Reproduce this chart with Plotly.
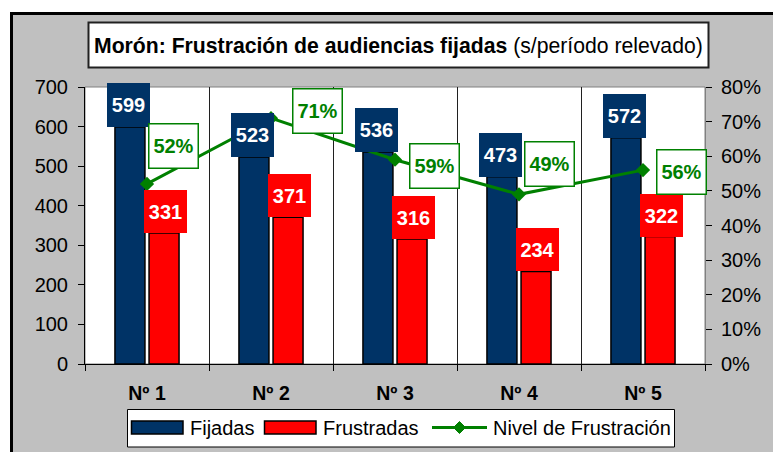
import plotly.graph_objects as go

# ---------------- data ----------------
categories = ["Nº 1", "Nº 2", "Nº 3", "Nº 4", "Nº 5"]
fijadas = [599, 523, 536, 473, 572]
frustradas = [331, 371, 316, 234, 322]
nivel = [0.52, 0.71, 0.59, 0.49, 0.56]
nivel_labels = ["52%", "71%", "59%", "49%", "56%"]

title_bold = "Morón: Frustración de audiencias fijadas"
title_rest = "(s/período relevado)"
series_names = ["Fijadas", "Frustradas", "Nivel de Frustración"]

# ---------------- layout helpers ----------------
W, H = 773, 452
L, R, T, B = 85, 68, 87, 88
PW = W - L - R
PH = H - T - B
BOTTOM = H - B


def px(x):
    return (x - L) / PW


def py(y):
    return (BOTTOM - y) / PH


NAVY = "#003366"
RED = "#FF0000"
GREEN = "#008000"
GRAY = "#C0C0C0"
FONT = "Liberation Sans, Arial, sans-serif"

# label offsets (pixels) for the percentage boxes, relative to their points
pct_dx = [26.5, 46.5, 39.5, 30.5, 38.5]
pct_dy = [38, 7, -6.5, 30, -1.5]

fig = go.Figure()
fig.add_bar(x=categories, y=fijadas, name=series_names[0],
            marker=dict(color=NAVY, line=dict(color="black", width=1.5)))
fig.add_bar(x=categories, y=frustradas, name=series_names[1],
            marker=dict(color=RED, line=dict(color="black", width=1.5)))
fig.add_scatter(x=categories, y=nivel, name=series_names[2], yaxis="y2",
                mode="lines+markers",
                line=dict(color=GREEN, width=3),
                marker=dict(symbol="diamond", size=11, color=GREEN))

shapes = [
    # outer chart area
    dict(type="rect", xref="paper", yref="paper", layer="below",
         x0=px(11.5), x1=px(820), y0=py(13.5), y1=py(500),
         fillcolor=GRAY, line=dict(color="black", width=3)),
    # plot area
    dict(type="rect", xref="paper", yref="paper", layer="below",
         x0=0, x1=1, y0=0, y1=1, fillcolor="white",
         line=dict(color="#808080", width=1)),
    # title box
    dict(type="rect", xref="paper", yref="paper", layer="below",
         x0=px(88.5), x1=px(708.5), y0=py(22.5), y1=py(67.5),
         fillcolor="white", line=dict(color="#202020", width=2)),
    # legend box
    dict(type="rect", xref="paper", yref="paper", layer="below",
         x0=px(127.5), x1=px(674.5), y0=py(409.5), y1=py(447),
         fillcolor="white", line=dict(color="black", width=1)),
    # legend swatches
    dict(type="rect", xref="paper", yref="paper", layer="below",
         x0=px(131.5), x1=px(183), y0=py(421), y1=py(434),
         fillcolor=NAVY, line=dict(color="black", width=1.5)),
    dict(type="rect", xref="paper", yref="paper", layer="below",
         x0=px(264.5), x1=px(316), y0=py(421), y1=py(434),
         fillcolor=RED, line=dict(color="black", width=1.5)),
    dict(type="line", xref="paper", yref="paper", layer="below",
         x0=px(432), x1=px(487), y0=py(427.5), y1=py(427.5),
         line=dict(color=GREEN, width=3)),
    dict(type="path", xref="paper", yref="paper", layer="below",
         path="M {},{} L {},{} L {},{} L {},{} Z".format(
             px(459.5), py(421.5), px(465.5), py(427.5),
             px(459.5), py(433.5), px(453.5), py(427.5)),
         fillcolor=GREEN, line=dict(color=GREEN, width=1)),
]

annotations = [
    dict(xref="paper", yref="paper", x=px(398.5), y=py(45.5),
         xanchor="center", yanchor="middle", showarrow=False,
         text=f"<b>{title_bold}</b> {title_rest}",
         font=dict(size=21.2, color="black", family=FONT)),
]

legend_texts = [(188, series_names[0]), (321, series_names[1]), (491, series_names[2])]
for lx, txt in legend_texts:
    annotations.append(dict(xref="paper", yref="paper", x=px(lx), y=py(427.5),
                            xanchor="left", yanchor="middle", showarrow=False,
                            text=txt, font=dict(size=20, color="black", family=FONT)))

for i, c in enumerate(categories):
    annotations.append(dict(x=c, y=fijadas[i], xref="x", yref="y",
                            xanchor="center", yanchor="bottom", xshift=-19,
                            showarrow=False, text=f"<b>{fijadas[i]}</b>",
                            bgcolor=NAVY, borderwidth=0, borderpad=0,
                            width=43, height=44,
                            font=dict(size=20, color="white", family=FONT)))
    annotations.append(dict(x=c, y=frustradas[i], xref="x", yref="y",
                            xanchor="center", yanchor="bottom", xshift=18,
                            showarrow=False, text=f"<b>{frustradas[i]}</b>",
                            bgcolor=RED, borderwidth=0, borderpad=0,
                            width=43, height=43,
                            font=dict(size=20, color="white", family=FONT)))
    annotations.append(dict(x=c, y=nivel[i], xref="x", yref="y2",
                            xanchor="center", yanchor="middle",
                            xshift=pct_dx[i], yshift=pct_dy[i],
                            showarrow=False, text=f"<b>{nivel_labels[i]}</b>",
                            bgcolor="white", bordercolor=GREEN,
                            borderwidth=1.5, borderpad=0,
                            width=48, height=43,
                            font=dict(size=20, color=GREEN, family=FONT)))

fig.update_layout(
    width=W, height=H,
    margin=dict(l=L, r=R, t=T, b=B, pad=0),
    paper_bgcolor="white", plot_bgcolor="white",
    font=dict(family=FONT, size=20, color="black"),
    barmode="group", bargap=0.45, bargroupgap=0.12,
    showlegend=False,
    xaxis=dict(type="category", tickmode="array", tickvals=categories,
               ticktext=[f"<b>{c}</b>" for c in categories],
               tickson="boundaries", ticks="outside", ticklen=6,
               tickcolor="black", showline=True, linecolor="black",
               linewidth=1, showgrid=True, gridcolor="#202020", gridwidth=1,
               range=[-0.5, 4.5], ticklabelstandoff=12,
               tickfont=dict(size=19.5)),
    yaxis=dict(range=[0, 700], tick0=0, dtick=100, ticks="outside",
               ticklen=6, tickcolor="black", showline=True,
               linecolor="black", linewidth=1, showgrid=False,
               zeroline=False, ticklabelstandoff=6),
    yaxis2=dict(overlaying="y", side="right", range=[0, 0.8], tick0=0,
                dtick=0.1, tickformat=".0%", ticks="outside", ticklen=6,
                tickcolor="black", showline=True, linecolor="#808080",
                linewidth=1, showgrid=False, zeroline=False,
                ticklabelstandoff=5),
    shapes=shapes,
    annotations=annotations,
)

fig.write_html("out.html", config={"displayModeBar": False},
               post_script="document.body.style.margin='0';document.body.style.overflow='hidden';")
